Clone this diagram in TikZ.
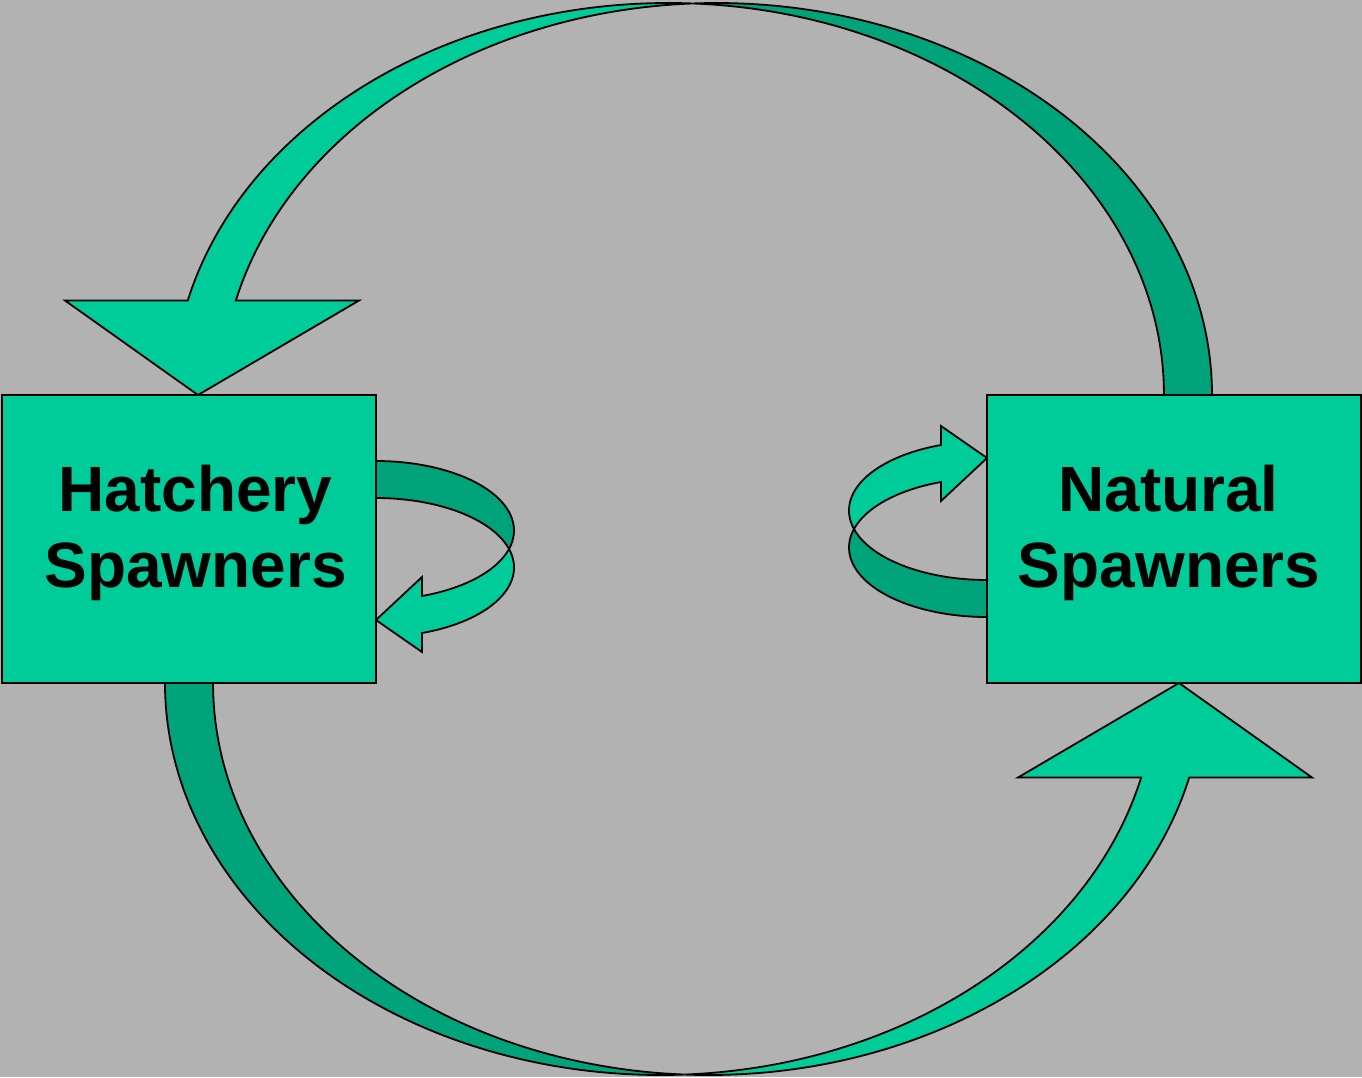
\documentclass[tikz,border=0pt]{standalone}
\usepackage{fontspec}
\setmainfont{Liberation Sans}
\definecolor{bggray}{HTML}{B2B2B2}
\definecolor{lightg}{HTML}{00CC99}
\definecolor{darkg}{HTML}{00A37A}
\tikzset{
  frontface/.style={fill=lightg, draw=black, line width=1.8bp, line join=miter},
  backface/.style={fill=darkg, draw=black, line width=1.8bp, line join=miter},
  spawnbox/.style={fill=lightg, draw=black, line width=1.8bp, inner sep=0pt, outer sep=0pt, anchor=north west},
  lbl/.style={font=\fontsize{64bp}{76bp}\selectfont\bfseries, anchor=base, inner sep=0pt}
}
\newcommand{\bigcurvedarrow}{%
  \draw[backface] (1212,395)
    arc[start angle=360, end angle=267.22, x radius=495.4, y radius=392]
    arc[start angle=272.78, end angle=360, x radius=495.4, y radius=392] -- cycle;
  \draw[frontface] (198,395) -- (65,300.5) -- (187.8,300.5)
    arc[start angle=193.95, end angle=272.78, x radius=495.4, y radius=392]
    arc[start angle=267.22, end angle=193.95, x radius=495.4, y radius=392]
    -- (359,300.5) -- cycle;
}
\newcommand{\smallcurvedarrow}{%
  \draw[backface] (376,461)
    arc[start angle=270, end angle=375.44, x radius=138, y radius=69.5]
    arc[start angle=344.56, end angle=270, x radius=138, y radius=69.5] -- cycle;
  \draw[frontface] (376,620) -- (422,652) -- (422,633)
    arc[start angle=70.53, end angle=-15.44, x radius=138, y radius=69.5]
    arc[start angle=15.44, end angle=70.53, x radius=138, y radius=69.5]
    -- (422,577) -- cycle;
}
\begin{document}
\begin{tikzpicture}[x=1bp, y=-1bp]
  \fill[bggray] (0,0) rectangle (1362,1077);
  \useasboundingbox (0,0) rectangle (1362,1077);
  % large curved arrows
  \bigcurvedarrow
  \begin{scope}[rotate around={180:(688.5,539)}]
    \bigcurvedarrow
  \end{scope}
  % small self-loop arrows
  \smallcurvedarrow
  \begin{scope}[rotate around={180:(681.5,539)}]
    \smallcurvedarrow
  \end{scope}
  % boxes
  \node[spawnbox, minimum width=374bp, minimum height=288bp] (hatch) at (2,395) {};
  \node[spawnbox, minimum width=374bp, minimum height=288bp] (natural) at (987,395) {};
  % labels
  \node[lbl] (hatchA) at (195.5,511) {Hatchery};
  \node[lbl] (hatchB) at (195.5,587) {Spawners};
  \node[lbl] (naturalA) at (1168.5,511) {Natural};
  \node[lbl] (naturalB) at (1169,587) {Spawners};
\end{tikzpicture}
\end{document}
